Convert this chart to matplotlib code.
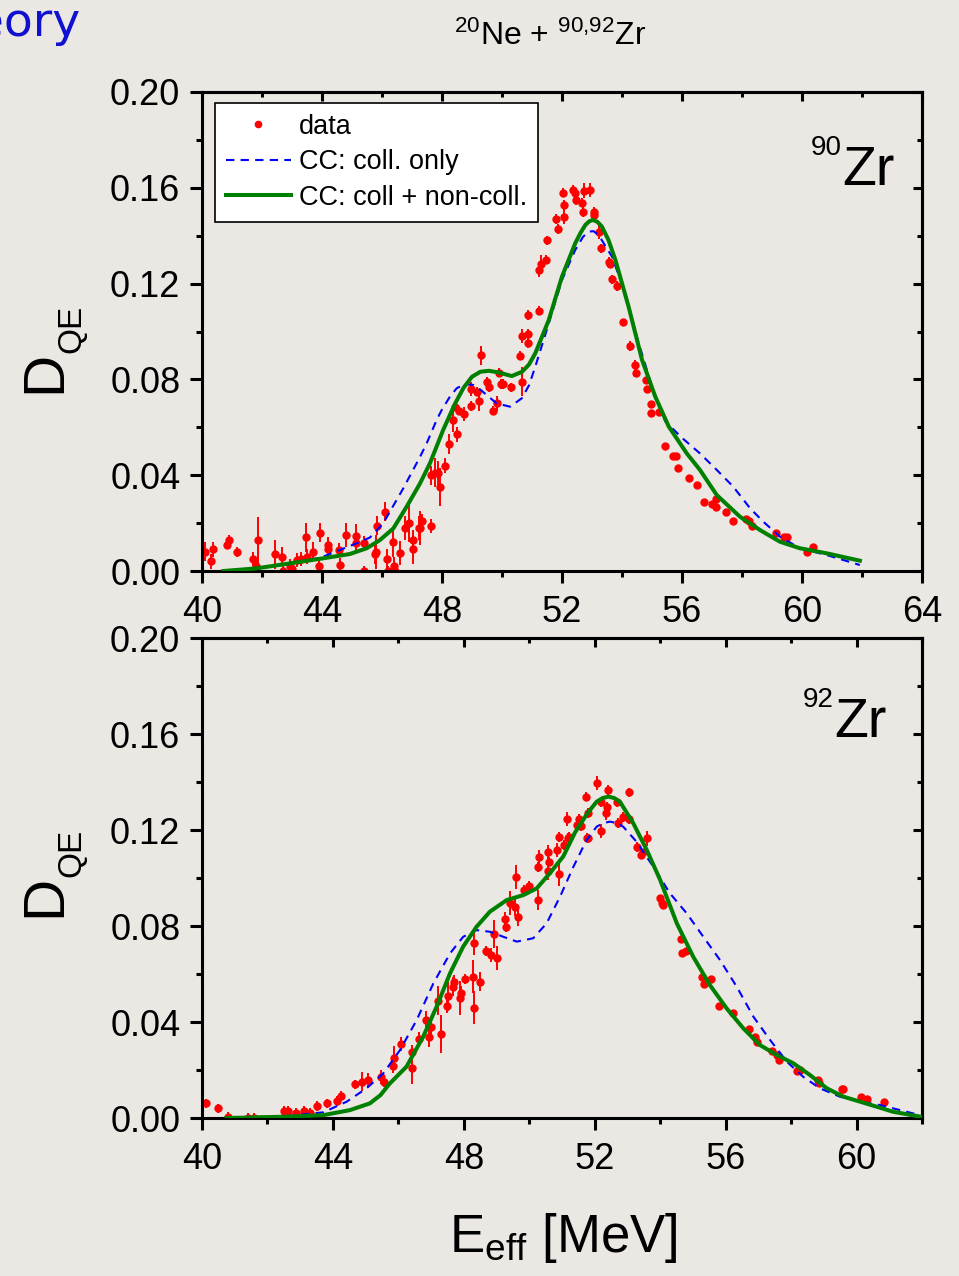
import numpy as np
import matplotlib
matplotlib.use('Agg')
import matplotlib.pyplot as plt
from matplotlib.ticker import MultipleLocator, FormatStrFormatter
from matplotlib.lines import Line2D

plt.rcParams['font.family'] = ['Liberation Sans', 'DejaVu Sans']
plt.rcParams['mathtext.fontset'] = 'custom'
plt.rcParams['mathtext.rm'] = 'Liberation Sans'
plt.rcParams['mathtext.it'] = 'Liberation Sans:italic'
plt.rcParams['mathtext.bf'] = 'Liberation Sans:bold'

# ---- 90Zr : data
zr90_e = [40.1, 40.29, 40.36, 40.82, 40.9, 41.18, 41.71, 41.8, 41.86, 42.44, 42.66, 42.7, 42.93, 43.0,
          43.18, 43.3, 43.46, 43.5, 43.71, 43.91, 43.93, 44.2, 44.21, 44.56, 44.6, 44.79, 45.12, 45.14,
          45.39, 45.4, 45.78, 45.8, 45.83, 46.09, 46.18, 46.2, 46.36, 46.4, 46.42, 46.6, 46.76, 46.91,
          47.04, 47.05, 47.22, 47.27, 47.34, 47.62, 47.63, 47.77, 47.88, 47.93, 48.11, 48.23, 48.38,
          48.42, 48.51, 48.58, 48.73, 48.97, 48.97, 49.18, 49.24, 49.3, 49.51, 49.58, 49.69, 49.82,
          49.9, 49.97, 50.04, 50.29, 50.6, 50.66, 50.68, 50.86, 50.87, 50.88, 51.23, 51.24, 51.29,
          51.46, 51.49, 51.79, 51.86, 52.04, 52.07, 52.08, 52.36, 52.43, 52.47, 52.67, 52.71, 52.73,
          52.93, 53.06, 53.08, 53.23, 53.3, 53.58, 53.6, 53.68, 53.84, 54.04, 54.27, 54.44, 54.46,
          54.8, 54.82, 54.96, 54.97, 55.24, 55.44, 55.71, 55.8, 55.88, 56.23, 56.49, 56.74, 56.99,
          57.12, 57.13, 57.46, 57.69, 58.13, 58.22, 58.34, 59.12, 59.4, 59.49, 60.16, 60.38]
zr90_d = [0.008, 0.004, 0.009, 0.011, 0.013, 0.008, 0.005, 0.002, 0.013, 0.007, 0.006, 0.0, 0.002, 0.001,
          0.0046, 0.0049, 0.014, 0.006, 0.008, 0.002, 0.016, 0.011, 0.009, 0.0088, 0.0025, 0.015, 0.0118, 0.0148,
          0.0118, 0.0, 0.007, 0.008, 0.0189, 0.0248, 0.005, 0.0, 0.012, 0.002, 0.0, 0.0077, 0.018, 0.02,
          0.009, 0.013, 0.018, 0.018, 0.021, 0.0189, 0.04, 0.041, 0.041, 0.035, 0.044, 0.053, 0.063,
          0.0686, 0.057, 0.067, 0.0656, 0.076, 0.069, 0.0749, 0.071, 0.090, 0.0789, 0.0767, 0.067, 0.070,
          0.0828, 0.078, 0.078, 0.0767, 0.0899, 0.079, 0.098, 0.095, 0.107, 0.099, 0.1087, 0.1257, 0.128,
          0.130, 0.138, 0.147, 0.1428, 0.158, 0.153, 0.148, 0.159, 0.158, 0.155, 0.1538, 0.150, 0.1588,
          0.159, 0.150, 0.1488, 0.1417, 0.1347, 0.129, 0.128, 0.1218, 0.119, 0.1038, 0.094, 0.086, 0.0828,
          0.0797, 0.0759, 0.0697, 0.0658, 0.0665, 0.052, 0.048, 0.048, 0.0429, 0.039, 0.0359, 0.0289, 0.0278,
          0.030, 0.0268, 0.0248, 0.0209, 0.0216, 0.0209, 0.0189, 0.0157, 0.014, 0.014, 0.0078, 0.0101]
zr90_err = [0.004, 0.003, 0.003, 0.002, 0.002, 0.002, 0.003, 0.003, 0.0095, 0.006, 0.004, 0.003, 0.003, 0.002,
            0.003, 0.003, 0.006, 0.003, 0.004, 0.003, 0.004, 0.003, 0.004, 0.003, 0.003, 0.005, 0.004, 0.005,
            0.003, 0.002, 0.004, 0.007, 0.004, 0.004, 0.004, 0.002, 0.006, 0.004, 0.003, 0.005, 0.005, 0.008,
            0.006, 0.004, 0.005, 0.007, 0.003, 0.003, 0.004, 0.006, 0.005, 0.008, 0.003, 0.004, 0.005,
            0.002, 0.003, 0.002, 0.003, 0.003, 0.002, 0.002, 0.004, 0.004, 0.002, 0.002, 0.002, 0.003,
            0.002, 0.002, 0.002, 0.002, 0.002, 0.006, 0.003, 0.002, 0.002, 0.002, 0.002, 0.003, 0.004,
            0.002, 0.002, 0.002, 0.002, 0.002, 0.002, 0.003, 0.002, 0.002, 0.002, 0.002, 0.002, 0.003,
            0.003, 0.002, 0.002, 0.003, 0.002, 0.002, 0.001, 0.002, 0.002, 0.001, 0.002, 0.002, 0.002,
            0.001, 0.001, 0.001, 0.001, 0.001, 0.001, 0.001, 0.001, 0.001, 0.001, 0.001, 0.001, 0.001,
            0.001, 0.001, 0.001, 0.001, 0.001, 0.001, 0.001, 0.001, 0.001, 0.001, 0.001, 0.001]

# 90Zr : CC coll only (dashed)
zr90_coll_e = [40.7, 42.0, 43.0, 44.0, 45.16, 45.6, 46.04, 46.71, 47.27, 47.49, 47.82, 47.99, 48.25, 48.49, 48.76,
               49.04, 49.27, 49.49, 49.82, 50.27, 50.66, 50.9, 51.11, 51.56, 52.0, 52.44, 52.7, 52.89, 53.05,
               53.22, 53.67, 54.11, 54.56, 55.0, 55.44, 56.0, 56.6, 57.16, 57.71, 58.27, 58.71, 59.27,
               59.93, 60.82, 61.93]
zr90_coll_d = [0.0, 0.0015, 0.003, 0.0058, 0.0116, 0.014, 0.0199, 0.0345, 0.0477, 0.0533, 0.063, 0.0672, 0.0725,
               0.0763, 0.078, 0.0777, 0.0758, 0.0735, 0.070, 0.0686, 0.0721, 0.0775, 0.0853, 0.1034, 0.1215,
               0.134, 0.1395, 0.1417, 0.1419, 0.1403, 0.1312, 0.1159, 0.095, 0.077, 0.0625, 0.0556, 0.0491,
               0.0422, 0.0352, 0.0262, 0.0206, 0.0143, 0.0095, 0.0067, 0.0025]
# 90Zr : CC coll + non-coll (solid)
zr90_full_e = [40.71, 41.82, 42.93, 44.04, 44.93, 45.49, 45.93, 46.38, 46.82, 47.27, 47.6, 48.04, 48.44, 48.72,
               49.0, 49.28, 49.56, 49.89, 50.33, 50.67, 50.9, 51.11, 51.56, 52.0, 52.44, 52.62, 52.78, 52.91,
               53.03, 53.18, 53.33, 53.55, 53.78, 54.22, 54.67, 55.11, 55.56, 56.16, 56.6, 57.16, 57.93,
               58.6, 59.27, 59.93, 60.82, 61.93]
zr90_full_d = [0.0, 0.0011, 0.0032, 0.0053, 0.0071, 0.0095, 0.0129, 0.0178, 0.0268, 0.0366, 0.045, 0.0589, 0.070,
               0.0765, 0.0811, 0.0832, 0.0836, 0.0829, 0.0814, 0.0832, 0.0862, 0.0909, 0.1048, 0.1229, 0.1368,
               0.1412, 0.1445, 0.146, 0.1466, 0.1458, 0.1438, 0.1382, 0.1299, 0.1104, 0.0881, 0.0728, 0.0603,
               0.0491, 0.0422, 0.0317, 0.0227, 0.0171, 0.0122, 0.0095, 0.0074, 0.0043]

# ---- 92Zr : data
zr92_e = [40.12, 40.5, 40.8, 41.4, 41.6, 42.51, 42.62, 42.87, 43.12, 43.3, 43.52, 43.81, 44.12, 44.24,
          44.67, 44.9, 45.08, 45.46, 45.56, 45.83, 45.87, 46.08, 46.41, 46.43, 46.64, 46.84, 46.95, 47.01,
          47.2, 47.3, 47.48, 47.53, 47.66, 47.7, 47.88, 47.9, 48.04, 48.27, 48.32, 48.32, 48.49, 48.68,
          48.82, 48.93, 49.0, 49.27, 49.28, 49.41, 49.56, 49.59, 49.66, 49.85, 49.98, 50.26, 50.27, 50.31,
          50.58, 50.61, 50.58, 50.84, 50.9, 50.92, 51.06, 51.17, 51.14, 51.2, 51.45, 51.52, 51.57, 51.73,
          51.77, 51.78, 51.8, 52.06, 52.18, 52.18, 52.34, 52.37, 52.42, 52.69, 52.7, 52.86, 53.06, 53.06,
          53.28, 53.41, 53.49, 53.59, 54.0, 54.05, 54.1, 54.64, 54.68, 54.78, 55.29, 55.34, 55.54, 55.81,
          56.22, 56.71, 56.9, 56.95, 57.41, 57.56, 57.64, 58.17, 58.27, 58.83, 58.86, 59.55, 59.6, 60.14,
          60.31, 60.84]
zr92_d = [0.0061, 0.004, 0.0005, 0.0, 0.0, 0.003, 0.003, 0.0022, 0.003, 0.0022, 0.0051, 0.0061, 0.0071, 0.0092,
          0.014, 0.0151, 0.0158, 0.0172, 0.0151, 0.0218, 0.0249, 0.0308, 0.0276, 0.021, 0.0329, 0.0408, 0.0336, 0.0378,
          0.0489, 0.0349, 0.0468, 0.0508, 0.0547, 0.0568, 0.0499, 0.0522, 0.0579, 0.0589, 0.046, 0.0728, 0.0568, 0.0697,
          0.0679, 0.0767, 0.0668, 0.0828, 0.0797, 0.0897, 0.088, 0.1005, 0.0839, 0.095, 0.0967, 0.0908, 0.1047, 0.1086,
          0.1107, 0.1068, 0.103, 0.1117, 0.1017, 0.117, 0.1138, 0.1168, 0.1246, 0.117, 0.1221, 0.1246, 0.1217, 0.1339,
          0.1168, 0.127, 0.1165, 0.1395, 0.1315, 0.1197, 0.127, 0.1297, 0.1367, 0.1315, 0.1228, 0.1255, 0.1357, 0.1245,
          0.1128, 0.1096, 0.1107, 0.1165, 0.0918, 0.0897, 0.0888, 0.0746, 0.0686, 0.0696, 0.0589, 0.0558, 0.0578, 0.0468,
          0.0439, 0.037, 0.0339, 0.0318, 0.028, 0.0263, 0.0242, 0.0197, 0.02, 0.0158, 0.0147, 0.012, 0.0119, 0.0089,
          0.0079, 0.0068]
zr92_err = [0.002, 0.002, 0.002, 0.002, 0.002, 0.002, 0.002, 0.002, 0.002, 0.002, 0.002, 0.002, 0.002, 0.002,
            0.002, 0.004, 0.003, 0.003, 0.002, 0.003, 0.005, 0.003, 0.003, 0.007, 0.003, 0.004, 0.004, 0.003,
            0.006, 0.008, 0.003, 0.006, 0.004, 0.003, 0.007, 0.003, 0.002, 0.007, 0.007, 0.005, 0.004, 0.002,
            0.003, 0.006, 0.005, 0.003, 0.002, 0.005, 0.004, 0.005, 0.004, 0.002, 0.002, 0.004, 0.002, 0.003,
            0.003, 0.002, 0.004, 0.003, 0.005, 0.002, 0.002, 0.002, 0.003, 0.002, 0.002, 0.002, 0.002, 0.002,
            0.002, 0.002, 0.002, 0.003, 0.002, 0.003, 0.003, 0.002, 0.002, 0.002, 0.002, 0.002, 0.002, 0.002,
            0.002, 0.001, 0.001, 0.003, 0.001, 0.001, 0.001, 0.001, 0.001, 0.001, 0.001, 0.001, 0.001, 0.001,
            0.001, 0.001, 0.001, 0.001, 0.001, 0.001, 0.001, 0.001, 0.001, 0.001, 0.001, 0.001, 0.001, 0.001,
            0.001, 0.001]

zr92_coll_e = [40.8, 42.69, 43.71, 44.42, 45.03, 45.54, 46.05, 46.56, 47.07, 47.58, 47.98, 48.39, 48.8, 49.21,
               49.62, 50.12, 50.53, 50.94, 51.35, 51.75, 52.06, 52.27, 52.47, 52.67, 52.87, 53.28, 53.79, 54.3,
               54.81, 55.32, 55.83, 56.34, 56.85, 57.36, 57.87, 58.37, 58.88, 59.49, 60.11, 60.72, 61.33, 61.94]
zr92_coll_d = [0.0, 0.0009, 0.0024, 0.0068, 0.0124, 0.0186, 0.0283, 0.0408, 0.0561, 0.0686, 0.0755, 0.0783, 0.0776,
               0.0755, 0.0735, 0.0749, 0.0811, 0.0922, 0.1047, 0.1158, 0.1214, 0.1229, 0.1235, 0.1229, 0.1214,
               0.1151, 0.1047, 0.0936, 0.0853, 0.0755, 0.0658, 0.0547, 0.0422, 0.0325, 0.0235, 0.0172, 0.0124,
               0.0089, 0.0068, 0.0054, 0.0033, 0.0012]
zr92_full_e = [40.75, 42.69, 43.71, 44.52, 45.13, 45.45, 45.74, 46.25, 46.76, 47.17, 47.58, 47.98, 48.39, 48.8,
               49.31, 49.82, 50.23, 50.63, 51.04, 51.4, 51.78, 52.06, 52.24, 52.42, 52.6, 52.77, 53.18, 53.59,
               54.0, 54.51, 55.01, 55.52, 56.03, 56.54, 57.05, 57.56, 58.07, 58.58, 59.09, 59.6, 60.11, 60.62,
               61.12, 61.94]
zr92_full_d = [0.0, 0.0006, 0.0012, 0.0033, 0.0061, 0.0095, 0.0144, 0.0214, 0.0339, 0.0464, 0.0603, 0.0714, 0.0797,
               0.086, 0.0908, 0.0929, 0.0957, 0.102, 0.109, 0.119, 0.127, 0.1318, 0.1333, 0.1339, 0.1333, 0.1318,
               0.1228, 0.1117, 0.0992, 0.0811, 0.0672, 0.0554, 0.0457, 0.0374, 0.0304, 0.0263, 0.0228, 0.0179,
               0.0124, 0.0089, 0.0068, 0.0047, 0.0026, 0.0006]

bg = '#ebe7e3'
red = '#ff0000'
blue = '#0000ff'
green = '#008000'

fig = plt.figure(figsize=(9.59, 12.76), dpi=100, facecolor=bg)
ax1 = fig.add_axes([0.2106, 0.5525, 0.7508, 0.3754])
ax2 = fig.add_axes([0.2106, 0.1238, 0.7508, 0.3762])


def style_axes(ax, xmax):
    ax.set_facecolor(bg)
    ax.set_xlim(40, xmax)
    ax.set_ylim(0, 0.20)
    ax.xaxis.set_major_locator(MultipleLocator(4))
    ax.xaxis.set_minor_locator(MultipleLocator(2))
    ax.yaxis.set_major_locator(MultipleLocator(0.04))
    ax.yaxis.set_minor_locator(MultipleLocator(0.02))
    ax.yaxis.set_major_formatter(FormatStrFormatter('%.2f'))
    for s in ax.spines.values():
        s.set_linewidth(2.2)
    ax.tick_params(which='major', direction='out', length=8.6, width=2.2, labelsize=26)
    ax.tick_params(which='minor', direction='out', length=4.3, width=2.2)
    ax.tick_params(axis='x', which='major', pad=9)
    ax.tick_params(axis='y', which='major', pad=7)
    # mirrored ticks on top / right point inwards (Origin style)
    top = ax.secondary_xaxis('top')
    top.xaxis.set_major_locator(MultipleLocator(4))
    top.xaxis.set_minor_locator(MultipleLocator(2))
    top.tick_params(which='major', direction='in', length=6.5, width=2.2, labeltop=False)
    top.tick_params(which='minor', direction='in', length=3.6, width=2.2)
    top.spines['top'].set_linewidth(2.2)
    right = ax.secondary_yaxis('right')
    right.yaxis.set_major_locator(MultipleLocator(0.04))
    right.yaxis.set_minor_locator(MultipleLocator(0.02))
    right.tick_params(which='major', direction='in', length=6.5, width=2.2, labelright=False)
    right.tick_params(which='minor', direction='in', length=3.6, width=2.2)
    right.spines['right'].set_linewidth(2.2)


def draw_panel(ax, e, d, err, ce, cd, fe, fd):
    ax.errorbar(e, d, yerr=err, fmt='o', color=red, ms=5, mec=red, elinewidth=1.4, capsize=0, zorder=2)
    ax.plot(ce, cd, color=blue, lw=1.5, dashes=(4, 3), zorder=3)
    ax.plot(fe, fd, color=green, lw=2.9, zorder=4, solid_joinstyle='round')


style_axes(ax1, 64)
style_axes(ax2, 62)
draw_panel(ax1, zr90_e, zr90_d, zr90_err, zr90_coll_e, zr90_coll_d, zr90_full_e, zr90_full_d)
draw_panel(ax2, zr92_e, zr92_d, zr92_err, zr92_coll_e, zr92_coll_d, zr92_full_e, zr92_full_d)

handles = [Line2D([], [], ls='none', marker='o', ms=4.5, color=red),
           Line2D([], [], color=blue, lw=1.5, dashes=(4, 3)),
           Line2D([], [], color=green, lw=2.9)]
labels = ['data', 'CC: coll. only', 'CC: coll + non-coll.']
leg = ax1.legend(handles, labels, loc='upper left', bbox_to_anchor=(0.018, 0.977), borderaxespad=0,
                 fontsize=19.5, fancybox=False, framealpha=1, edgecolor='black', facecolor='white',
                 handlelength=2.4, handletextpad=0.3, labelspacing=0.35, borderpad=0.4)
leg.get_frame().set_linewidth(1.2)


# text placed in pixel coordinates of the 959x1276 canvas
def ftext(px, py, s, **kw):
    fig.text(px / 959, 1 - py / 1276, s, **kw)


# slide title cut at the left edge, as in the original screenshot
ftext(80, 36, 'Theory', ha='right', va='baseline', color='#1010d0', fontsize=34, family=['DejaVu Sans'])
ftext(550, 45, r'$^{20}$Ne + $^{90{,}92}$Zr', ha='center', va='baseline', fontsize=23)

for dy in (372, 896):
    ftext(45, dy, 'D', rotation=90, ha='center', va='center', fontsize=42)
    ftext(72, dy - 43, 'QE', rotation=90, ha='center', va='center', fontsize=24)

ftext(895, 185, 'Zr', ha='right', va='baseline', fontsize=40)
ftext(842, 155, '90', ha='right', va='baseline', fontsize=20)
ftext(887, 737, 'Zr', ha='right', va='baseline', fontsize=40)
ftext(834, 707, '92', ha='right', va='baseline', fontsize=20)

ftext(563, 1252, r'E$_{\mathrm{eff}}$ [MeV]', ha='center', va='baseline', fontsize=38)

fig.savefig('out.png', dpi=100, facecolor=bg)
